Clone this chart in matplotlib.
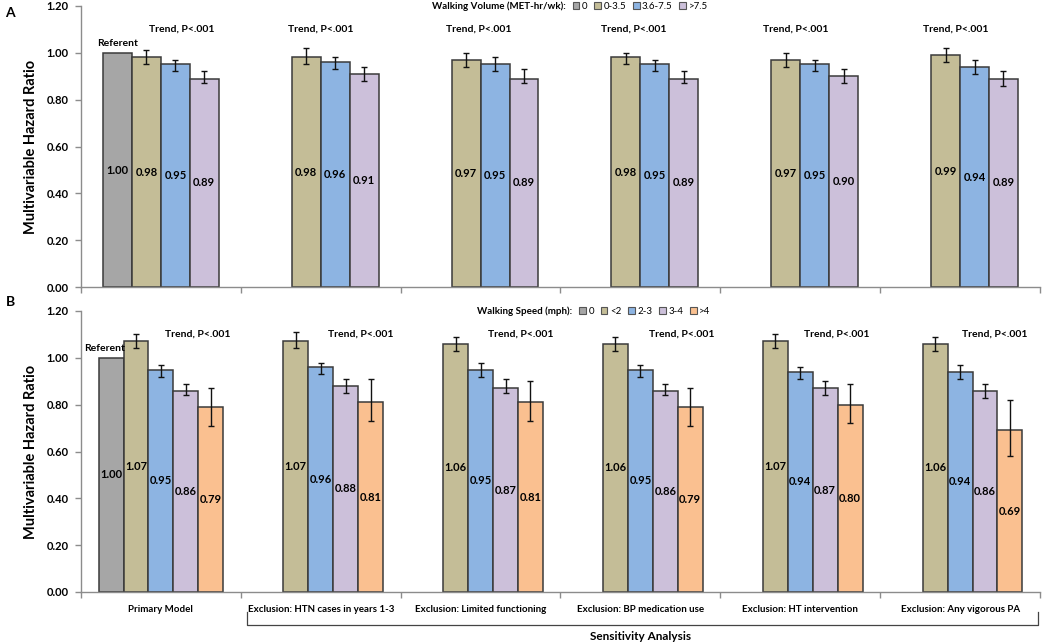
import numpy as np
import matplotlib
matplotlib.use("Agg")
import matplotlib.pyplot as plt
from matplotlib.patches import Patch
from matplotlib.transforms import blended_transform_factory

plt.rcParams['font.family'] = ['Lato', 'DejaVu Sans']
plt.rcParams['font.weight'] = 'bold'
plt.rcParams['axes.labelweight'] = 'bold'

# groups (x axis)
groupes = ['Primary Model', 'Exclusion: HTN cases in years 1-3', 'Exclusion: Limited functioning',
           'Exclusion: BP medication use', 'Exclusion: HT intervention', 'Exclusion: Any vigorous PA']

# Panel A : walking volume
vol_cats = ['0', '0-3.5', '3.6-7.5', '>7.5']
vol_hr = [
    [1.00, np.nan, np.nan, np.nan, np.nan, np.nan],
    [0.98, 0.98, 0.97, 0.98, 0.97, 0.99],
    [0.95, 0.96, 0.95, 0.95, 0.95, 0.94],
    [0.89, 0.91, 0.89, 0.89, 0.90, 0.89],
]
vol_low = [
    [np.nan] * 6,
    [0.95, 0.95, 0.94, 0.95, 0.94, 0.96],
    [0.92, 0.93, 0.92, 0.92, 0.92, 0.91],
    [0.87, 0.88, 0.87, 0.87, 0.87, 0.86],
]
vol_high = [
    [np.nan] * 6,
    [1.01, 1.02, 1.00, 1.00, 1.00, 1.02],
    [0.97, 0.98, 0.98, 0.97, 0.97, 0.97],
    [0.92, 0.94, 0.93, 0.92, 0.93, 0.92],
]

# Panel B : walking speed
vit_cats = ['0', '<2', '2-3', '3-4', '>4']
vit_hr = [
    [1.00, np.nan, np.nan, np.nan, np.nan, np.nan],
    [1.07, 1.07, 1.06, 1.06, 1.07, 1.06],
    [0.95, 0.96, 0.95, 0.95, 0.94, 0.94],
    [0.86, 0.88, 0.87, 0.86, 0.87, 0.86],
    [0.79, 0.81, 0.81, 0.79, 0.80, 0.69],
]
vit_low = [
    [np.nan] * 6,
    [1.04, 1.04, 1.03, 1.03, 1.04, 1.03],
    [0.92, 0.93, 0.92, 0.92, 0.91, 0.91],
    [0.84, 0.85, 0.85, 0.84, 0.84, 0.83],
    [0.71, 0.73, 0.73, 0.71, 0.72, 0.58],
]
vit_high = [
    [np.nan] * 6,
    [1.10, 1.11, 1.09, 1.09, 1.10, 1.09],
    [0.97, 0.98, 0.98, 0.97, 0.96, 0.97],
    [0.89, 0.91, 0.91, 0.89, 0.90, 0.89],
    [0.87, 0.91, 0.90, 0.87, 0.89, 0.82],
]

couleurs = ['#A6A6A6', '#C4BD97', '#8DB4E2', '#CCC0DA', '#FAC090']
bord = '#3a3a3a'
gris_axe = '#8c8c8c'

W, H = 1050, 644
fig = plt.figure(figsize=(W / 100, H / 100), dpi=100)
ax1 = fig.add_axes([81 / W, 1 - 287.3 / H, 959 / W, 281.5 / H])
ax2 = fig.add_axes([81 / W, 1 - 592 / H, 959 / W, 281 / H])

x = np.arange(len(groupes))


def panneau(ax, hr, low, high, cats, largeur, titre_leg, trend_dx, leg_x):
    n = len(cats)
    for i in range(n):
        pos = x + (i - (n - 1) / 2) * largeur
        v = np.array(hr[i], dtype=float)
        lo = np.array(low[i], dtype=float)
        hi = np.array(high[i], dtype=float)
        ax.bar(pos, v, largeur, color=couleurs[i], edgecolor=bord, linewidth=1.1, zorder=2)
        ok = ~np.isnan(lo)
        if ok.any():
            ax.errorbar(pos[ok], v[ok], yerr=[v[ok] - lo[ok], hi[ok] - v[ok]], fmt='none',
                        ecolor='#111111', elinewidth=1, capsize=2.5, capthick=1, zorder=3)
        for p, val in zip(pos, v):
            if not np.isnan(val):
                ax.text(p, val / 2, f'{val:.2f}', ha='center', va='center', fontsize=8, zorder=4)
    # Referent
    p0 = x[0] - (n - 1) / 2 * largeur
    if n == 4:
        ax.text(p0, 1.02, 'Referent', ha='center', va='bottom', fontsize=7.5)
    else:
        ax.text(p0 + largeur / 2 + 0.01, 1.02, 'Referent', ha='right', va='bottom', fontsize=7.5)
    for g in range(len(groupes)):
        ax.text(x[g] + trend_dx[g], 1.10, 'Trend, P<.001', ha='center', va='center', fontsize=7.5)

    ax.set_xlim(-0.5, len(groupes) - 0.5)
    ax.set_ylim(0, 1.2)
    ax.set_yticks(np.arange(0, 1.21, 0.2))
    ax.set_yticklabels([f'{t:.2f}' for t in np.arange(0, 1.21, 0.2)], fontsize=8)
    ax.set_xticks(np.arange(-0.5, len(groupes), 1.0))
    ax.set_xticklabels([])
    ax.tick_params(axis='both', color=gris_axe, length=4, width=1)
    ax.tick_params(axis='y', pad=5)
    for s in ['top', 'right']:
        ax.spines[s].set_visible(False)
    for s in ['left', 'bottom']:
        ax.spines[s].set_color(gris_axe)
        ax.spines[s].set_linewidth(1)
    ax.set_ylabel('Multivariable Hazard Ratio', fontsize=10.5, labelpad=6)

    handles = [Patch(facecolor='none', edgecolor='none')]
    handles += [Patch(facecolor=couleurs[i], edgecolor='#555555', linewidth=0.8) for i in range(n)]
    leg = ax.legend(handles, [titre_leg] + cats, ncol=n + 1, loc='center', bbox_to_anchor=(leg_x, 1.0),
                    frameon=False, fontsize=7, handlelength=0.7, handleheight=0.7,
                    handletextpad=0.25, columnspacing=0.7, borderaxespad=0)
    textes = leg.get_texts()
    for t in textes[1:]:
        t.set_fontweight('normal')


panneau(ax1, vol_hr, vol_low, vol_high, vol_cats, 0.181, 'Walking Volume (MET-hr/wk):',
        [0.13, 0, -0.01, -0.04, -0.03, -0.03], 0.505)
panneau(ax2, vit_hr, vit_low, vit_high, vit_cats, 0.156, 'Walking Speed (mph):',
        [0.23, 0.25, 0.25, 0.26, 0.23, 0.22], 0.53)

ax2.set_xticks(x, minor=True)
ax2.set_xticklabels(groupes, minor=True, fontsize=7)
ax2.tick_params(axis='x', which='minor', length=0, pad=9)

# bracket for sensitivity analysis
tr = blended_transform_factory(ax2.transData, ax2.transAxes)
ax2.plot([0.54, 0.54, 5.49, 5.49], [-0.072, -0.117, -0.117, -0.072], color='#444444',
         linewidth=0.9, transform=tr, clip_on=False)
ax2.text(3.0, -0.16, 'Sensitivity Analysis', transform=tr, ha='center', va='center', fontsize=8.5)

fig.text(10 / W, 1 - 13 / H, 'A', fontsize=10, ha='center', va='center')
fig.text(10 / W, 1 - 302 / H, 'B', fontsize=10, ha='center', va='center')

fig.savefig('out.png', dpi=100)
